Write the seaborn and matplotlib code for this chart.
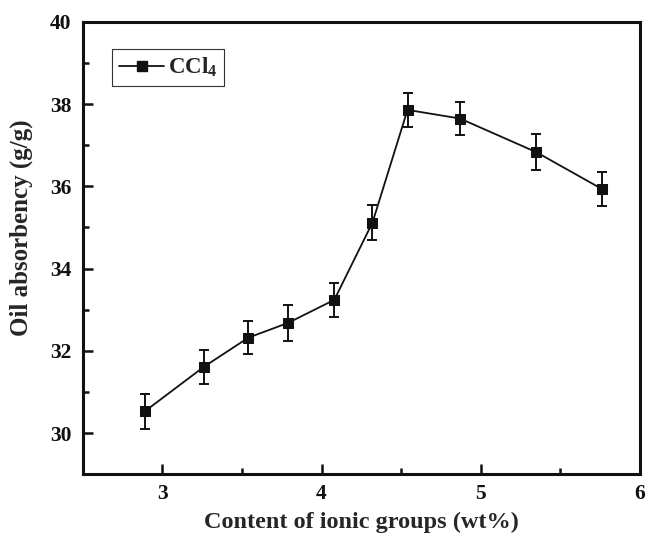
import matplotlib
matplotlib.use("Agg")
import matplotlib.pyplot as plt
import seaborn as sns
import pandas as pd
from matplotlib.ticker import MultipleLocator
from matplotlib.lines import Line2D

# Data
content = [2.89, 3.26, 3.54, 3.79, 4.08, 4.32, 4.54, 4.87, 5.35, 5.76]
absorbency = [30.53, 31.61, 32.32, 32.68, 33.24, 35.12, 37.86, 37.65, 36.83, 35.94]
errors = [0.43, 0.42, 0.40, 0.44, 0.42, 0.42, 0.42, 0.39, 0.44, 0.41]
series_name = "CCl$_4$"
x_label = "Content of ionic groups (wt%)"
y_label = "Oil absorbency (g/g)"

df = pd.DataFrame({"x": content, "y": absorbency, "err": errors})

sns.set_style("ticks")
plt.rcParams["font.family"] = ["Liberation Serif", "DejaVu Serif"]
plt.rcParams["font.weight"] = "bold"
plt.rcParams["mathtext.fontset"] = "custom"
plt.rcParams["mathtext.rm"] = "Liberation Serif:bold"
plt.rcParams["mathtext.it"] = "Liberation Serif:bold"
plt.rcParams["mathtext.bf"] = "Liberation Serif:bold"

fig = plt.figure(figsize=(6.47, 5.34), dpi=100)
ax = fig.add_axes([0.128, 0.112, 0.861, 0.847])

col = "#111111"
ax.errorbar(df["x"], df["y"], yerr=df["err"], fmt="none", ecolor=col,
            elinewidth=1.4, capsize=3.8, capthick=1.4, zorder=2)
sns.lineplot(data=df, x="x", y="y", ax=ax, color=col, linewidth=1.3,
             marker="s", markersize=7.5, markeredgecolor=col,
             markerfacecolor=col, zorder=3, legend=False)

ax.set_xlim(2.5, 6)
ax.set_ylim(29, 40)
ax.xaxis.set_major_locator(MultipleLocator(1))
ax.xaxis.set_minor_locator(MultipleLocator(0.5))
ax.yaxis.set_major_locator(MultipleLocator(2))
ax.yaxis.set_minor_locator(MultipleLocator(1))
ax.set_yticks([30, 32, 34, 36, 38, 40])

ax.tick_params(which="both", direction="in", top=False, right=False,
               width=1.8, colors=col, labelsize=15.5)
ax.tick_params(which="major", length=7)
ax.tick_params(which="minor", length=4)
for lab in ax.get_xticklabels() + ax.get_yticklabels():
    lab.set_fontweight("bold")
ax.tick_params(axis="x", pad=7)
ax.tick_params(axis="y", pad=8)

for s in ax.spines.values():
    s.set_linewidth(2.2)
    s.set_color(col)
    s.set_visible(True)

ax.set_xlabel(x_label, fontsize=17.5, fontweight="bold", labelpad=6)
ax.set_ylabel(y_label, fontsize=18, fontweight="bold", labelpad=12)
ax.yaxis.set_label_coords(-0.089, 0.545)

handle = Line2D([], [], color=col, linewidth=1.3, marker="s",
                markersize=7.5, markerfacecolor=col, markeredgecolor=col)
leg = ax.legend([handle], [series_name], loc="upper left",
                bbox_to_anchor=(0.052, 0.94), frameon=True, fancybox=False,
                edgecolor="black", fontsize=16.5, handlelength=2.0,
                handletextpad=0.15, borderpad=0.3, borderaxespad=0)
leg.get_frame().set_linewidth(0.8)

fig.savefig("out.png", dpi=100)
